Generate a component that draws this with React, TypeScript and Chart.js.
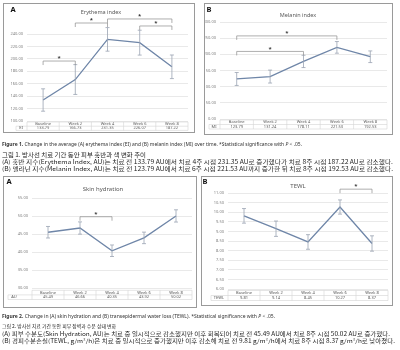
import React, { useEffect, useLayoutEffect, useRef } from "react";
import { Chart, registerables } from "chart.js";
Chart.register(...registerables);

// ---------- data ----------
const categories = ["Baseline", "Week 2", "Week 4", "Week 6", "Week 8"];

const erythemaValues = [133.79, 166.73, 231.35, 226.07, 187.22];
const erythemaSD = [18, 24, 19, 20, 19];
const erythemaSigPairs = [[0, 1], [1, 2], [2, 4], [3, 4]];
const erythemaSigLevels = [196.5, 257.7, 264.2, 252.9];
const erythemaTicks = [100, 240, 20];

const melaninValues = [123.79, 131.24, 178.11, 221.53, 192.53];
const melaninSD = [20, 20, 19, 18, 18];
const melaninSigPairs = [[0, 3], [0, 2]];
const melaninSigLevels = [257, 209];
const melaninTicks = [0, 300, 50];

const hydrationValues = [45.49, 46.66, 40.35, 43.92, 50.02];
const hydrationSD = [1.6, 1.7, 1.6, 1.6, 1.7];
const hydrationSigPairs = [[1, 2]];
const hydrationSigLevels = [49.8];
const hydrationTicks = [30, 55, 5];

const tewlValues = [9.81, 9.14, 8.45, 10.27, 8.37];
const tewlSD = [0.38, 0.4, 0.38, 0.37, 0.4];
const tewlSigPairs = [[3, 4]];
const tewlSigLevels = [11.2];
const tewlTicks = [6, 11, 0.5];

// ---------- styles ----------
const FONT = "'Noto Sans', 'Liberation Sans', sans-serif";
const KFONT = "'Noto Sans CJK KR', 'Noto Sans', sans-serif";
const LINE = "#6f86a8";
const ERR = "#9aa3b2";
const TXT = "#595959";

type PanelDef = {
  letter: string; title: string; rowLabel: string;
  values: number[]; sd: number[]; pairs: number[][]; levels: number[]; ticks: number[];
  box: { l: number; t: number; w: number; h: number };
  area: { l: number; t: number; r: number; b: number };
  titlePos: { x: number; y: number; fs: number };
  letterPos: { x: number; y: number };
  row: { x: number; pad: number; h: number; left: number };
};

const panels: PanelDef[] = [
  {
    letter: "A", title: "Erythema index", rowLabel: "EI",
    values: erythemaValues, sd: erythemaSD, pairs: erythemaSigPairs, levels: erythemaSigLevels, ticks: erythemaTicks,
    box: { l: 3, t: 3, w: 192, h: 130 }, area: { l: 27, t: 34, r: 188, b: 121 },
    titlePos: { x: 101, y: 12, fs: 5.5 }, letterPos: { x: 13, y: 10 },
    row: { x: 21, pad: 1, h: 4.2, left: 16 },
  },
  {
    letter: "B", title: "Melanin index", rowLabel: "MI",
    values: melaninValues, sd: melaninSD, pairs: melaninSigPairs, levels: melaninSigLevels, ticks: melaninTicks,
    box: { l: 204, t: 3, w: 189, h: 132 }, area: { l: 220, t: 22, r: 387, b: 119 },
    titlePos: { x: 298, y: 15, fs: 5.5 }, letterPos: { x: 209, y: 10 },
    row: { x: 214, pad: 1, h: 4.5, left: 209 },
  },
  {
    letter: "A", title: "Skin hydration", rowLabel: "AU",
    values: hydrationValues, sd: hydrationSD, pairs: hydrationSigPairs, levels: hydrationSigLevels, ticks: hydrationTicks,
    box: { l: 3, t: 176, w: 194, h: 132 }, area: { l: 32, t: 198, r: 192, b: 288 },
    titlePos: { x: 103, y: 189, fs: 6 }, letterPos: { x: 9, y: 182 },
    row: { x: 14, pad: 2.3, h: 4.6, left: 8 },
  },
  {
    letter: "B", title: "TEWL", rowLabel: "TEWL",
    values: tewlValues, sd: tewlSD, pairs: tewlSigPairs, levels: tewlSigLevels, ticks: tewlTicks,
    box: { l: 201, t: 176, w: 192, h: 130 }, area: { l: 228, t: 193, r: 388, b: 289 },
    titlePos: { x: 298, y: 186, fs: 6 }, letterPos: { x: 205, y: 182 },
    row: { x: 219, pad: 1.5, h: 5, left: 211 },
  },
];

function Panel({ p }: { p: PanelDef }) {
  const ref = useRef<HTMLCanvasElement>(null);
  useEffect(() => {
    const { box, area, row } = p;
    const overlay = {
      id: "overlay",
      afterDraw(chart: any) {
        const ctx = chart.ctx as CanvasRenderingContext2D;
        const xs = chart.scales.x;
        const ys = chart.scales.y;
        ctx.save();
        // error bars
        ctx.strokeStyle = ERR;
        ctx.lineWidth = 0.8;
        p.values.forEach((v, i) => {
          const x = xs.getPixelForValue(i);
          const y1 = ys.getPixelForValue(v + p.sd[i]);
          const y2 = ys.getPixelForValue(v - p.sd[i]);
          ctx.beginPath();
          ctx.moveTo(x, y1); ctx.lineTo(x, y2);
          ctx.moveTo(x - 2, y1); ctx.lineTo(x + 2, y1);
          ctx.moveTo(x - 2, y2); ctx.lineTo(x + 2, y2);
          ctx.stroke();
        });
        // significance brackets
        ctx.strokeStyle = "#8c8c8c";
        ctx.lineWidth = 0.7;
        ctx.fillStyle = "#333";
        ctx.font = `bold 6px ${FONT}`;
        ctx.textAlign = "center";
        ctx.textBaseline = "middle";
        p.pairs.forEach((pr, k) => {
          const xa = xs.getPixelForValue(pr[0]);
          const xb = xs.getPixelForValue(pr[1]);
          const y = ys.getPixelForValue(p.levels[k]);
          ctx.beginPath();
          ctx.moveTo(xa, y + 4); ctx.lineTo(xa, y); ctx.lineTo(xb, y); ctx.lineTo(xb, y + 4);
          ctx.stroke();
          ctx.fillText("*", (xa + xb) / 2, y - 2.5);
        });
        // data table grid
        const n = categories.length;
        const w = (xs.right - xs.left) / n;
        const top = chart.chartArea.bottom + row.pad;
        const mid = top + row.h;
        const bot = top + 2 * row.h;
        const left = row.left - box.l;
        ctx.strokeStyle = "#d4d4d4";
        ctx.lineWidth = 0.6;
        ctx.beginPath();
        ctx.moveTo(xs.left, top); ctx.lineTo(xs.right, top);
        ctx.moveTo(left, mid); ctx.lineTo(xs.right, mid);
        ctx.moveTo(left, bot); ctx.lineTo(xs.right, bot);
        ctx.moveTo(left, mid); ctx.lineTo(left, bot);
        for (let i = 0; i <= n; i++) {
          const x = xs.left + i * w;
          ctx.moveTo(x, top); ctx.lineTo(x, bot);
        }
        ctx.stroke();
        ctx.fillStyle = TXT;
        ctx.font = `4px ${FONT}`;
        ctx.fillText(p.rowLabel, row.x - box.l, mid + row.h / 2);
        // title and letter
        ctx.fillStyle = TXT;
        ctx.font = `${p.titlePos.fs}px ${FONT}`;
        ctx.fillText(p.title, p.titlePos.x - box.l, p.titlePos.y - box.t);
        ctx.fillStyle = "#111";
        ctx.font = `bold 7.5px ${FONT}`;
        ctx.fillText(p.letter, p.letterPos.x - box.l, p.letterPos.y - box.t);
        ctx.restore();
      },
    };
    const chart = new Chart(ref.current as HTMLCanvasElement, {
      type: "line",
      data: {
        labels: categories.map((c, i) => [c, p.values[i].toFixed(2)]),
        datasets: [{
          data: p.values, borderColor: LINE, borderWidth: 1.3, pointRadius: 0, tension: 0, fill: false,
        }],
      },
      options: {
        animation: false,
        responsive: false,
        events: [],
        layout: { padding: { left: 0, right: box.l + box.w - area.r, top: area.t - box.t, bottom: 0 } },
        plugins: { legend: { display: false }, tooltip: { enabled: false }, title: { display: false } },
        scales: {
          x: {
            offset: true,
            grid: { display: false, drawTicks: false },
            border: { display: false },
            ticks: {
              autoSkip: false, maxRotation: 0, minRotation: 0, padding: row.pad,
              color: TXT, font: { size: 4, family: FONT, lineHeight: row.h / 4 },
            },
            afterFit: (s: any) => { s.height = box.t + box.h - area.b; },
          },
          y: {
            min: p.ticks[0], max: p.ticks[1],
            ticks: {
              stepSize: p.ticks[2], padding: 4, color: "#7f7f7f",
              font: { size: 4, family: FONT },
              callback: (v: any) => Number(v).toFixed(2),
            },
            grid: { color: "#e3e3e3", drawTicks: false, lineWidth: 0.8 },
            border: { display: false },
            afterFit: (s: any) => { s.width = area.l - box.l; },
          },
        },
      },
      plugins: [overlay],
    } as any);
    return () => chart.destroy();
  }, [p]);
  const { box } = p;
  return (
    <>
      <canvas ref={ref} width={box.w} height={box.h}
        style={{ position: "absolute", left: box.l, top: box.t, width: box.w, height: box.h }} />
      <div style={{
        position: "absolute", left: box.l, top: box.t, width: box.w, height: box.h,
        border: "1px solid #9a9a9a", boxSizing: "border-box", pointerEvents: "none",
      }} />
    </>
  );
}

function FitLine({ x, cy, w, fs, family, color, children }: any) {
  const ref = useRef<HTMLDivElement>(null);
  useLayoutEffect(() => {
    const el = ref.current;
    if (!el) return;
    el.style.transform = "none";
    const nat = el.getBoundingClientRect().width;
    if (nat > 0) el.style.transform = `scaleX(${w / nat})`;
  }, [w]);
  return (
    <div ref={ref} style={{
      position: "absolute", left: x, top: cy - fs * 0.6, fontSize: fs, lineHeight: `${fs * 1.2}px`,
      whiteSpace: "nowrap", transformOrigin: "0 0", fontFamily: family, color,
    }}>{children}</div>
  );
}

export default function App() {
  return (
    <div style={{ position: "fixed", left: 0, top: 0, width: 400, height: 350, background: "#fff", overflow: "hidden" }}>
      {panels.map((p, i) => <Panel key={i} p={p} />)}

      <FitLine x={2} cy={145} w={300} fs={4.5} family={FONT} color="#333">
        <b>Figure 1.</b> Change in the average (A) erythema index (EI) and (B) melanin index (MI) over time. *Statistical significance with <i>P</i> &lt; .05.
      </FitLine>
      <FitLine x={2} cy={155} w={144} fs={6} family={KFONT} color="#222">
        그림 1. 방사선 치료 기간 동안 피부 홍반과 색 변화 추이
      </FitLine>
      <FitLine x={2} cy={162.5} w={391} fs={5.5} family={KFONT} color="#222">
        (A) 홍반 지수(Erythema Index, AU)는 치료 전 133.79 AU에서 치료 4주 시점 231.35 AU로 증가했다가 치료 8주 시점 187.22 AU로 감소했다.
      </FitLine>
      <FitLine x={2} cy={169} w={391} fs={5.5} family={KFONT} color="#222">
        (B) 멜라닌 지수(Melanin Index, AU)는 치료 전 123.79 AU에서 치료 6주 시점 221.53 AU까지 증가한 뒤 치료 8주 시점 192.53 AU로 감소했다.
      </FitLine>

      <FitLine x={2} cy={317} w={273} fs={4.5} family={FONT} color="#333">
        <b>Figure 2.</b> Change in (A) skin hydration and (B) transepidermal water loss (TEWL). *Statistical significance with <i>P</i> &lt; .05.
      </FitLine>
      <FitLine x={2} cy={326} w={114} fs={5} family={KFONT} color="#222">
        그림 2. 방사선 치료 기간 동안 피부 장벽과 수분 상태 변화
      </FitLine>
      <FitLine x={2} cy={334} w={388} fs={5.5} family={KFONT} color="#222">
        (A) 피부 수분도(Skin Hydration, AU)는 치료 중 일시적으로 감소했지만 이후 회복되어 치료 전 45.49 AU에서 치료 8주 시점 50.02 AU로 증가했다.
      </FitLine>
      <FitLine x={2} cy={341} w={393} fs={5.5} family={KFONT} color="#222">
        (B) 경피수분손실(TEWL, g/m²/h)은 치료 중 일시적으로 증가했지만 이후 감소해 치료 전 9.81 g/m²/h에서 치료 8주 시점 8.37 g/m²/h로 낮아졌다.
      </FitLine>
    </div>
  );
}
